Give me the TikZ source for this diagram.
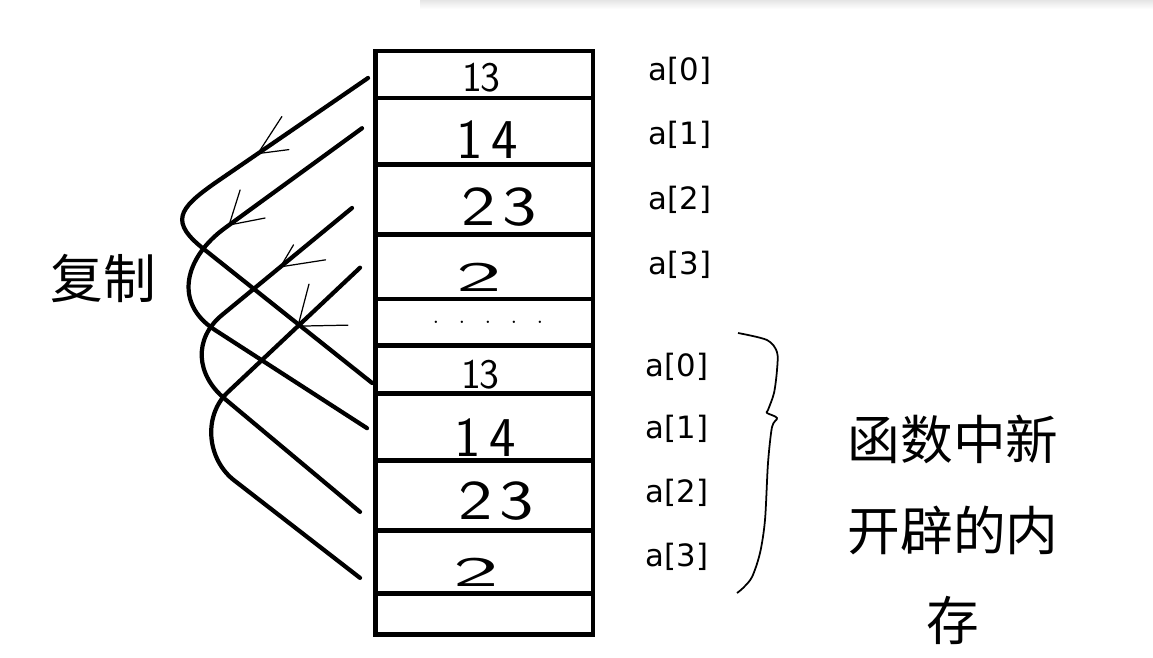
\documentclass[tikz,border=0pt]{standalone}
\usepackage{fontspec}
\newfontfamily\cjkfont{Noto Sans CJK SC}
\newfontfamily\idxfont{DejaVu Sans}
\usetikzlibrary{positioning, calc}

\tikzset{
  cell/.style={draw, line width=2.8pt, minimum width=4.35cm, inner sep=0pt, outer sep=0pt},
  digit/.style={inner sep=0pt, font=\sffamily\fontsize{24}{24}\selectfont},
  bigdigit/.style={inner sep=0pt, font=\sffamily\fontsize{32}{32}\selectfont},
  idx/.style={inner sep=0pt, font=\idxfont\fontsize{17.5}{20}\selectfont},
  hanzi/.style={inner sep=0pt, font=\cjkfont\fontsize{30}{51.6}\selectfont},
  copyline/.style={line width=2.4pt, line cap=round, line join=round},
  tick/.style={line width=0.7pt, line cap=round},
}

\begin{document}
\begin{tikzpicture}[x=0.02cm, y=-0.02cm]
    \useasboundingbox (0,0) rectangle (1153,657);

    % shadow of the window edge
    \shade[top color=black!10, bottom color=white] (420,0) rectangle (1153,9);

    % the array, old copy on top
    \node[cell, minimum height=0.94cm, anchor=north] (old0) at (484.25,51) {};
    \node[cell, minimum height=1.33cm, below=0pt of old0] (old1) {};
    \node[cell, minimum height=1.40cm, below=0pt of old1] (old2) {};
    \node[cell, minimum height=1.29cm, below=0pt of old2] (old3) {};
    \node[cell, minimum height=0.94cm, below=0pt of old3] (gap) {};
    % new memory in the function
    \node[cell, minimum height=0.96cm, below=0pt of gap] (new0) {};
    \node[cell, minimum height=1.33cm, below=0pt of new0] (new1) {};
    \node[cell, minimum height=1.40cm, below=0pt of new1] (new2) {};
    \node[cell, minimum height=1.27cm, below=0pt of new2] (new3) {};
    \node[cell, minimum height=0.81cm, below=0pt of new3] (tail) {};

    % values
    \node[digit] (v0) at (481,78) {1\kern-1pt3};
    \node[bigdigit] (v1) at (487,140) {1\kern5pt4};
    \node[bigdigit] (v2) at (499,207) {\scalebox{1.3}[1]{2\kern3pt3}};
    \node[digit] (v3) at (479,277) {\scalebox{2.3}[1]{2}};
    \node[inner sep=0pt, font=\fontsize{14}{14}\selectfont] (dots) at (488,322)
      {.\hspace{11pt}.\hspace{11pt}.\hspace{11pt}.\hspace{11pt}.};
    \node[digit] (w0) at (480,375) {1\kern-1pt3};
    \node[bigdigit] (w1) at (485,438) {1\kern5pt4};
    \node[bigdigit] (w2) at (496,501) {\scalebox{1.3}[1]{2\kern3pt3}};
    \node[digit] (w3) at (476,572) {\scalebox{2.3}[1]{2}};

    % index labels
    \node[idx] (a0) at (680,71) {a[0]};
    \node[idx] (a1) at (680,135) {a[1]};
    \node[idx] (a2) at (680,200) {a[2]};
    \node[idx] (a3) at (680,264.5) {a[3]};
    \node[idx] (b0) at (677,367) {a[0]};
    \node[idx] (b1) at (677,429) {a[1]};
    \node[idx] (b2) at (677,492.5) {a[2]};
    \node[idx] (b3) at (677,557) {a[3]};

    % copy curves
    \draw[copyline] ($(old0.west)+(-7.5,3.5)$) -- coordinate[pos=0.72] (tipA) (215,183)
      .. controls +(-37,26) and +(-36,-28) .. (205,250) -- ($(new0.west)+(-3.5,13)$);
    \draw[copyline] ($(old1.west)+(-13.5,-3)$) -- coordinate[pos=0.97] (tipB) (225,228)
      .. controls +(-40.5,29.5) and +(-42,-27) .. (215,330) -- ($(new1.west)+(-8.5,1)$);
    \draw[copyline] ($(old2.west)+(-23.5,8.5)$) -- coordinate[pos=0.55] (tipC) (222,315)
      .. controls +(-29,24) and +(-29,-24) .. (225,399) -- ($(new2.west)+(-15.5,16.5)$);
    \draw[copyline] ($(old3.west)+(-15.5,1)$) -- coordinate[pos=0.47] (tipD) (228,392)
      .. controls +(-25.5,24) and +(-28,-21) .. (235,481) -- ($(new3.west)+(-15.5,15.75)$);

    % little arrow heads
    \draw[tick] (tipA) -- +(24,-37) (tipA) -- +(31,-4);
    \draw[tick] (tipB) -- +(11,-35) (tipB) -- +(36,-7);
    \draw[tick] (tipC) -- +(13,-22) (tipC) -- +(45,-7);
    \draw[tick] (tipD) -- +(11,-42) (tipD) -- +(50,-1);

    % brace
    \draw[line width=1pt] plot[smooth, tension=0.5] coordinates {(738,333) (767,340) (777,352)
      (777,370) (774,393) (768,410) (767,413) (777,418) (772,427) (768,463) (765,520)
      (760,553) (752,577) (743,588) (737,593)};

    % the words
    \node[hanzi] (copy) at (103,278) {复制};
    \node[hanzi, align=center] (note) at (953,530) {函数中新\\开辟的内\\存};
\end{tikzpicture}
\end{document}
